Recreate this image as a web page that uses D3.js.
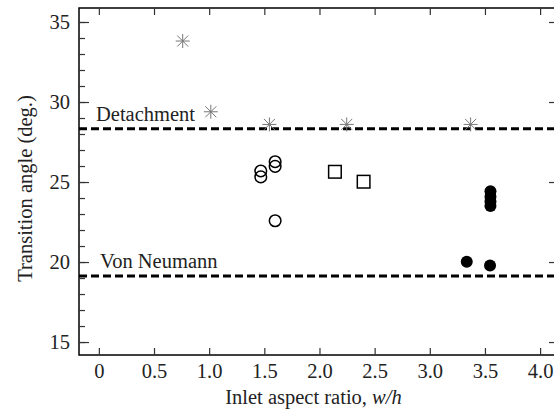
<!DOCTYPE html>
<html><head><meta charset="utf-8">
<script src="https://cdn.jsdelivr.net/npm/d3@7"></script>
<style>
body{margin:0;background:#fff;}
svg text{font-family:"Liberation Serif","Times New Roman",Times,"Nimbus Roman","DejaVu Serif",serif !important;}
</style></head>
<body>
<svg id="c" width="554" height="412"></svg>
<script>
// ---- data ----
const asteriskX = [0.76, 1.015, 1.546, 2.247, 3.37];
const asteriskY = [33.81, 29.39, 28.6, 28.6, 28.6];
const openCircleX = [1.468, 1.468, 1.598, 1.598, 1.598];
const openCircleY = [25.69, 25.32, 26.27, 25.98, 22.58];
const squareX = [2.14, 2.40];
const squareY = [25.64, 25.02];
const filledX = [3.335, 3.546, 3.55, 3.55, 3.55, 3.55];
const filledY = [20.02, 19.78, 24.42, 24.08, 23.78, 23.5];
const refLabels = ["Detachment", "Von Neumann"];
const refValues = [28.33, 19.12];
const xTicks = [0, 0.5, 1.0, 1.5, 2.0, 2.5, 3.0, 3.5, 4.0];
const xTickLabels = ["0", "0.5", "1.0", "1.5", "2.0", "2.5", "3.0", "3.5", "4.0"];
const yTicks = [15, 20, 25, 30, 35];
const yMinorTicks = [15,16,17,18,19,20,21,22,23,24,25,26,27,28,29,30,31,32,33,34,35];

// ---- layout ----
const L = 79, R = 555, T = 8, B = 355;
const FF = '"Liberation Serif","Times New Roman",Times,"Nimbus Roman","DejaVu Serif",serif';
const svg = d3.select("#c");
const x = d3.scaleLinear().domain([-0.18, 4.135]).range([L, R]);
const y = d3.scaleLinear().domain([14.19, 35.875]).range([B, T]);
const txt = "#222";

// frame
svg.append("rect").attr("x", L).attr("y", T).attr("width", R - L).attr("height", B - T)
  .attr("fill", "none").attr("stroke", "#000").attr("stroke-width", 1.5);

// x axes (bottom & top), inward ticks
const xb = svg.append("g").attr("transform", `translate(0,${B})`)
  .call(d3.axisBottom(x).tickValues(xTicks).tickSizeInner(-7).tickSizeOuter(0)
    .tickPadding(8).tickFormat((d, i) => xTickLabels[i]));
const xt = svg.append("g").attr("transform", `translate(0,${T})`)
  .call(d3.axisTop(x).tickValues(xTicks).tickSizeInner(-7).tickSizeOuter(0).tickFormat(""));
// y axes
const ym = svg.append("g").attr("transform", `translate(${L},0)`)
  .call(d3.axisLeft(y).tickValues(yMinorTicks).tickSizeInner(-6).tickSizeOuter(0).tickFormat(""));
const yl = svg.append("g").attr("transform", `translate(${L},0)`)
  .call(d3.axisLeft(y).tickValues(yTicks).tickSizeInner(-10).tickSizeOuter(0).tickPadding(9).tickFormat(d3.format("d")));
const yr = svg.append("g").attr("transform", `translate(${R},0)`)
  .call(d3.axisRight(y).tickValues(yTicks).tickSizeInner(-6).tickSizeOuter(0).tickFormat(""));
[xb, xt, ym, yl, yr].forEach(g => {
  g.attr("font-family", FF);
  g.select(".domain").remove();
  g.selectAll(".tick line").attr("stroke", "#333").attr("stroke-width", 1.2);
  g.selectAll("text").attr("fill", txt).attr("font-family", FF).attr("font-size", "20.5px");
});

// reference dashed lines
svg.selectAll("line.ref").data(refValues).enter().append("line")
  .attr("x1", L).attr("x2", R).attr("y1", d => y(d)).attr("y2", d => y(d))
  .attr("stroke", "#000").attr("stroke-width", 3).attr("stroke-dasharray", "8,4");
svg.selectAll("text.ref").data(refLabels).enter().append("text")
  .attr("x", (d, i) => i === 0 ? 96 : 100)
  .attr("y", (d, i) => y(refValues[i]) - 8)
  .attr("fill", txt).attr("font-family", FF).attr("font-size", "20.5px").text(d => d);

// asterisks
const ast = svg.append("g").selectAll("g").data(asteriskX).enter().append("g")
  .attr("transform", (d, i) => `translate(${x(d)},${y(asteriskY[i])})`);
[[0, -7, 0, 7], [-7, 0, 7, 0], [-5.5, -5.5, 5.5, 5.5], [-5.5, 5.5, 5.5, -5.5]].forEach(s => {
  ast.append("line").attr("x1", s[0]).attr("y1", s[1]).attr("x2", s[2]).attr("y2", s[3])
    .attr("stroke", "#777").attr("stroke-width", 1);
});

// open circles
svg.append("g").selectAll("circle").data(openCircleX).enter().append("circle")
  .attr("cx", d => x(d)).attr("cy", (d, i) => y(openCircleY[i])).attr("r", 5.8)
  .attr("fill", "none").attr("stroke", "#000").attr("stroke-width", 1.5);

// squares
svg.append("g").selectAll("rect").data(squareX).enter().append("rect")
  .attr("x", d => x(d) - 6.3).attr("y", (d, i) => y(squareY[i]) - 6.3)
  .attr("width", 12.6).attr("height", 12.6)
  .attr("fill", "none").attr("stroke", "#000").attr("stroke-width", 1.5);

// filled circles
svg.append("g").selectAll("circle").data(filledX).enter().append("circle")
  .attr("cx", d => x(d)).attr("cy", (d, i) => y(filledY[i])).attr("r", 6)
  .attr("fill", "#000");

// axis titles
const xl = svg.append("text").attr("x", (L + 554) / 2 - 3).attr("y", 404)
  .attr("text-anchor", "middle").attr("fill", txt).attr("font-family", FF).attr("font-size", "20.5px");
xl.append("tspan").text("Inlet aspect ratio, ");
xl.append("tspan").attr("font-style", "italic").text("w/h");
svg.append("text").attr("transform", `translate(32,${(T + B) / 2 + 7}) rotate(-90)`)
  .attr("text-anchor", "middle").attr("fill", txt).attr("font-family", FF).attr("font-size", "20.5px")
  .text("Transition angle (deg.)");
</script>
</body></html>
